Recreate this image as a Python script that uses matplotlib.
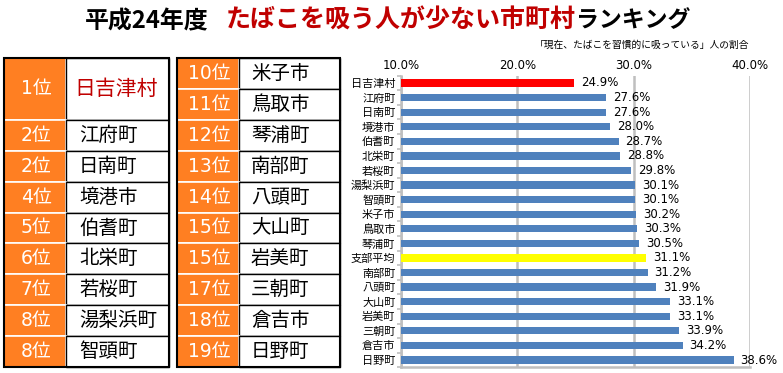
import matplotlib
matplotlib.use("Agg")
import matplotlib.pyplot as plt
from matplotlib.patches import Rectangle

plt.rcParams['font.family'] = ['Noto Sans CJK JP', 'DejaVu Sans']

# ---- data ----
categories = ["日吉津村", "江府町", "日南町", "境港市", "伯耆町", "北栄町", "若桜町",
              "湯梨浜町", "智頭町", "米子市", "鳥取市", "琴浦町", "支部平均", "南部町",
              "八頭町", "大山町", "岩美町", "三朝町", "倉吉市", "日野町"]
values = [24.9, 27.6, 27.6, 28.0, 28.7, 28.8, 29.8, 30.1, 30.1, 30.2, 30.3, 30.5,
          31.1, 31.2, 31.9, 33.1, 33.1, 33.9, 34.2, 38.6]
x_ticks = [10, 20, 30, 40]
x_tick_labels = ["10.0%", "20.0%", "30.0%", "40.0%"]

table1_ranks = ["1位", "2位", "2位", "4位", "5位", "6位", "7位", "8位", "8位"]
table1_names = ["日吉津村", "江府町", "日南町", "境港市", "伯耆町", "北栄町", "若桜町", "湯梨浜町", "智頭町"]
table2_ranks = ["10位", "11位", "12位", "13位", "14位", "15位", "15位", "17位", "18位", "19位"]
table2_names = ["米子市", "鳥取市", "琴浦町", "南部町", "八頭町", "大山町", "岩美町", "三朝町", "倉吉市", "日野町"]

BLUE = "#4F81BD"
ORANGE = "#FF7F22"
DARKRED = "#C00000"
NUMFONT = ['DejaVu Sans', 'Noto Sans CJK JP']

W, H = 783, 373
fig = plt.figure(figsize=(W / 100, H / 100), dpi=100)

# ---- overlay axes in pixel coordinates for title and tables ----
ov = fig.add_axes([0, 0, 1, 1])
ov.set_xlim(0, W)
ov.set_ylim(H, 0)
ov.axis("off")

# title (chained pieces)
t1 = ov.text(85, 21, "平成24年度", fontsize=17.2, fontweight="bold", color="black", va="center", ha="left")
t2 = ov.annotate("たばこを吸う人が少ない市町村", xy=(1, 0.5), xycoords=t1, xytext=(12.5, 0),
                 textcoords="offset points", fontsize=18, fontweight="bold", color=DARKRED,
                 va="center", ha="left")
ov.annotate("ランキング", xy=(1, 0.5), xycoords=t2, xytext=(0, 0), textcoords="offset points",
            fontsize=16.5, fontweight="bold", color="black", va="center", ha="left")

ov.text(749, 45, "「現在、たばこを習慣的に吸っている」人の割合", fontsize=7, ha="right", va="center")

top, bottom = 58, 367
rh = (bottom - top) / 10.0


def draw_table(x0, xo, x1, ranks, names, spans, name_x, first_special=False):
    row = 0
    for i, (r, n, s) in enumerate(zip(ranks, names, spans)):
        y0 = top + row * rh
        hgt = s * rh
        ov.add_patch(Rectangle((x0, y0), xo - x0, hgt, facecolor=ORANGE, edgecolor="white", lw=1.2))
        ov.add_patch(Rectangle((xo, y0), x1 - xo, hgt, facecolor="white", edgecolor="black", lw=1.0))
        yc = y0 + hgt / 2
        ov.text((x0 + xo) / 2 + 1, yc, r, color="white", fontsize=13.5, family=NUMFONT,
                ha="center", va="center")
        if first_special and i == 0:
            ov.text(name_x - 5, yc, n, color=DARKRED, fontsize=15, ha="left", va="center")
        else:
            ov.text(name_x, yc, n, color="black", fontsize=14, ha="left", va="center")
        row += s
    ov.add_patch(Rectangle((x0, top), x1 - x0, bottom - top, facecolor="none", edgecolor="black", lw=1.5))


draw_table(4, 66, 169, table1_ranks, table1_names, [2] + [1] * 8, 79, first_special=True)
draw_table(177, 239, 340, table2_ranks, table2_names, [1] * 10, 251)

# ---- bar chart ----
ax = fig.add_axes([401 / W, 1 - 367.3 / H, (750 - 401) / W, (367.3 - 75.7) / H])
n = len(categories)
ypos = list(range(n))
colors = []
for c in categories:
    if c == "日吉津村":
        colors.append("#FF0000")
    elif c == "支部平均":
        colors.append("#FFFF00")
    else:
        colors.append(BLUE)
ax.barh(ypos, [v - 10 for v in values], left=10, height=0.5, color=colors, zorder=3)
ax.set_ylim(n - 0.5, -0.5)
ax.set_xlim(10, 40)
ax.set_yticks(ypos)
ax.set_yticklabels(categories, fontsize=8)
ax.set_yticks([i + 0.5 for i in range(-1, n)], minor=True)
ax.set_xticks(x_ticks)
ax.set_xticklabels(x_tick_labels, fontsize=8.5, family=NUMFONT)
ax.xaxis.tick_top()
ax.tick_params(axis="x", length=0, pad=3)
ax.tick_params(axis="y", which="major", length=0, pad=4)
ax.tick_params(axis="y", which="minor", length=3, color="#BFBFBF", width=1.2)
ax.grid(axis="x", color="#BFBFBF", lw=1.8, zorder=0)
for s in ["top", "right"]:
    ax.spines[s].set_visible(False)
ax.spines["left"].set_color("#BFBFBF")
ax.spines["bottom"].set_color("#BFBFBF")
ax.spines["left"].set_linewidth(1.8)
ax.spines["bottom"].set_linewidth(1.8)
ax.set_facecolor("none")
for y, v in zip(ypos, values):
    ax.annotate(f"{v:.1f}%", (v, y), xytext=(5, 0), textcoords="offset points",
                fontsize=8.5, family=NUMFONT, va="center", ha="left", annotation_clip=False)

fig.savefig("out.png", dpi=100)
